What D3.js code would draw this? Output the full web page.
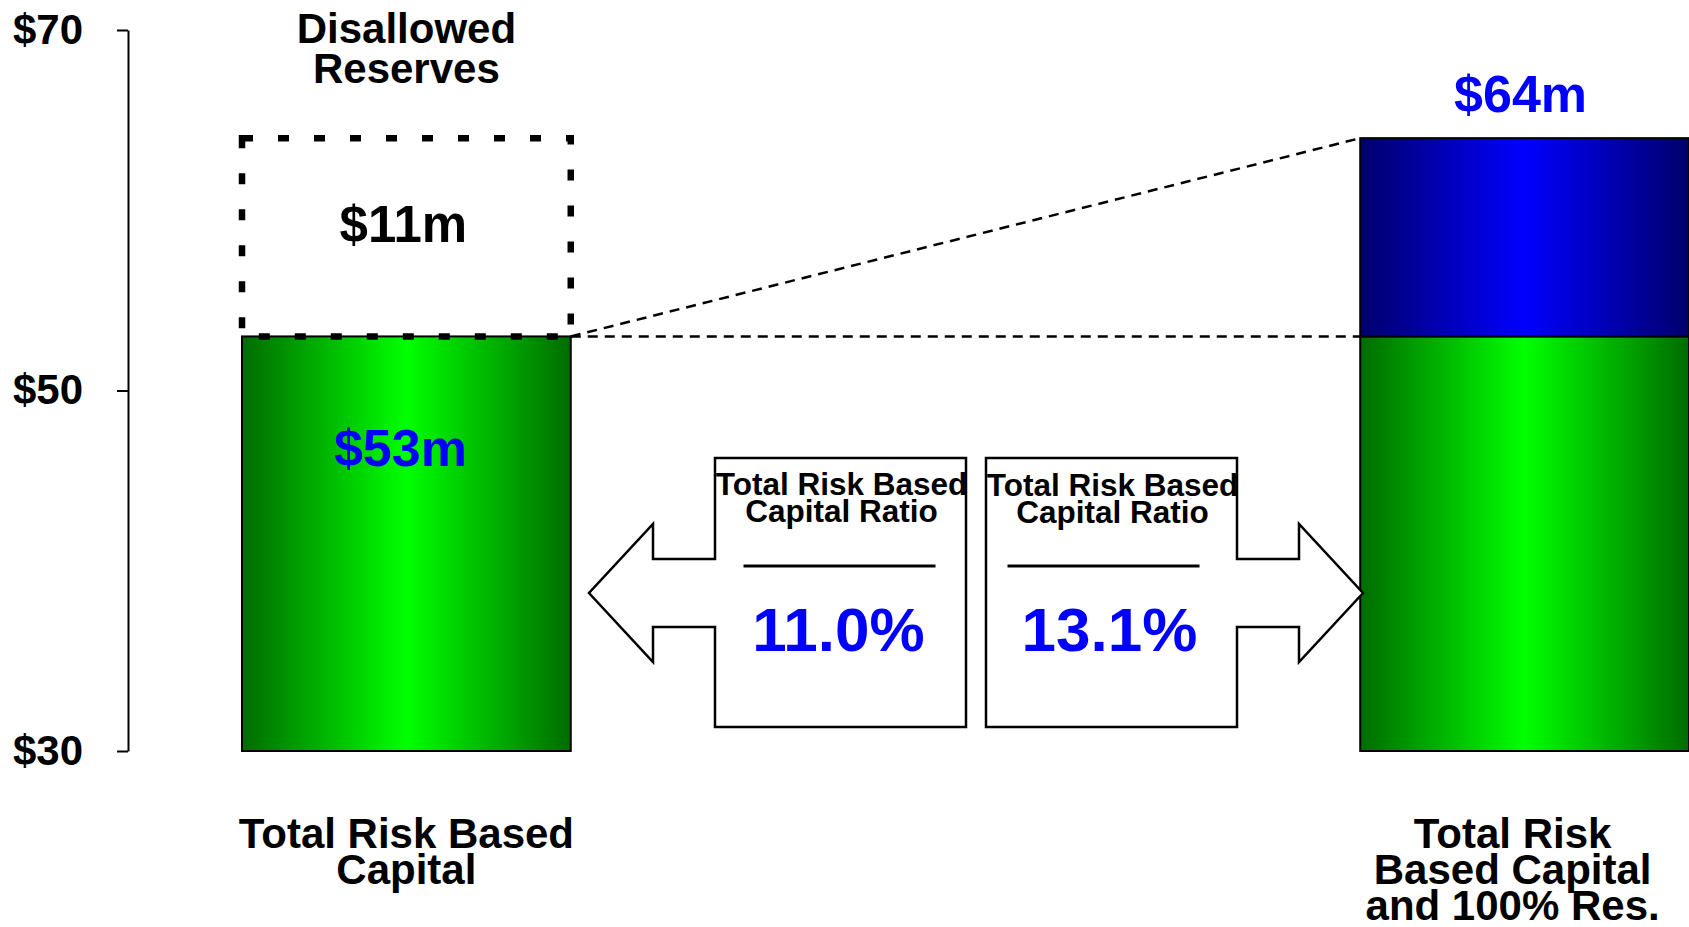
<!DOCTYPE html>
<html>
<head>
<meta charset="utf-8">
<script src="https://cdn.jsdelivr.net/npm/d3@7"></script>
<style>
  html, body { margin: 0; padding: 0; background: #fff; }
  svg { display: block; font-family: 'Liberation Sans', Arial, sans-serif; font-weight: bold; }
</style>
</head>
<body>
<svg id="chart" width="1689" height="927"></svg>
<script>
// chart values
const categories = ['Total Risk Based Capital', 'Total Risk Based Capital and 100% Res.']
const categoryLines = [['Total Risk Based', 'Capital'], ['Total Risk', 'Based Capital', 'and 100% Res.']]
const baseCapital = [53, 53]
const reserves = [11, 11]
const reservesCounted = [false, true]
const ratioValues = [11.0, 13.1]
const ratioTitle = ['Total Risk Based', 'Capital Ratio']
const disallowedTitle = ['Disallowed', 'Reserves']
const yTicks = [30, 50, 70]

const svg = d3.select('#chart')

const y = d3.scaleLinear().domain([30, 70]).range([751, 30])
const x = d3.scaleBand().domain(categories).range([242, 1689]).paddingInner(0.706).paddingOuter(0)
const bw = x.bandwidth()

// gradients for the bars
const defs = svg.append('defs')
function hGradient(id, edge, mid) {
  const g = defs.append('linearGradient').attr('id', id).attr('x1', 0).attr('x2', 1).attr('y1', 0).attr('y2', 0)
  g.append('stop').attr('offset', '0%').attr('stop-color', edge)
  g.append('stop').attr('offset', '50%').attr('stop-color', mid)
  g.append('stop').attr('offset', '100%').attr('stop-color', edge)
}
hGradient('greenGrad', '#006c00', '#00ff00')
hGradient('blueGrad', '#00006c', '#0000ff')

// y axis
const yAxis = svg.append('g')
  .attr('transform', 'translate(128,0)')
  .call(d3.axisLeft(y).tickValues(yTicks).tickSize(11).tickSizeOuter(0).tickPadding(34).tickFormat(d => '$' + d))
yAxis.selectAll('path, line').attr('stroke', '#000').attr('stroke-width', 2)
yAxis.selectAll('text')
  .attr('fill', '#000')
  .style('font-family', "'Liberation Sans', Arial, sans-serif")
  .style('font-weight', 'bold')
  .style('font-size', '42px')

// connector dashed lines (behind bars)
const x0r = x(categories[0]) + bw
const x1l = x(categories[1])
svg.append('line')
  .attr('x1', x0r).attr('y1', y(baseCapital[0]))
  .attr('x2', x1l).attr('y2', y(baseCapital[1]))
  .attr('stroke', '#000').attr('stroke-width', 2.5).attr('stroke-dasharray', '10,7')
svg.append('line')
  .attr('x1', x0r).attr('y1', y(baseCapital[0]))
  .attr('x2', x1l).attr('y2', y(baseCapital[1] + reserves[1]))
  .attr('stroke', '#000').attr('stroke-width', 2.5).attr('stroke-dasharray', '10,7')

// base capital bars
svg.append('g').selectAll('rect')
  .data(categories)
  .join('rect')
  .attr('x', d => x(d))
  .attr('y', (d, i) => y(baseCapital[i]))
  .attr('width', bw)
  .attr('height', (d, i) => y(30) - y(baseCapital[i]))
  .attr('fill', 'url(#greenGrad)')
  .attr('stroke', '#000')
  .attr('stroke-width', 2)

// reserves: dotted outline when disallowed, blue when counted
svg.append('g').selectAll('rect')
  .data(categories)
  .join('rect')
  .attr('x', d => x(d))
  .attr('y', (d, i) => y(baseCapital[i] + reserves[i]))
  .attr('width', bw)
  .attr('height', (d, i) => y(baseCapital[i]) - y(baseCapital[i] + reserves[i]))
  .attr('fill', (d, i) => reservesCounted[i] ? 'url(#blueGrad)' : 'none')
  .attr('stroke', '#000')
  .attr('stroke-width', (d, i) => reservesCounted[i] ? 2 : 6.5)
  .attr('stroke-dasharray', (d, i) => reservesCounted[i] ? null : '11,25')

// value labels
const c0 = x(categories[0]) + bw / 2
const c1 = x(categories[1]) + bw / 2
svg.append('text')
  .attr('x', c0 - 6).attr('y', y(baseCapital[0]) + 130)
  .attr('text-anchor', 'middle').attr('fill', '#0000ff').style('font-size', '52px')
  .text('$' + baseCapital[0] + 'm')
svg.append('text')
  .attr('x', c0 - 3).attr('y', (y(baseCapital[0]) + y(baseCapital[0] + reserves[0])) / 2 + 5)
  .attr('text-anchor', 'middle').attr('fill', '#000').style('font-size', '51px')
  .text('$' + reserves[0] + 'm')
svg.append('text')
  .attr('x', c1 - 4).attr('y', y(baseCapital[1] + reserves[1]) - 26)
  .attr('text-anchor', 'middle').attr('fill', '#0000ff').style('font-size', '52px')
  .text('$' + (baseCapital[1] + reserves[1]) + 'm')

// disallowed reserves title
svg.append('text')
  .attr('text-anchor', 'middle').style('font-size', '42px')
  .selectAll('tspan')
  .data(disallowedTitle)
  .join('tspan')
  .attr('x', c0)
  .attr('y', (d, i) => 43 + i * 40)
  .text(d => d)

// category labels
const labelCx = [c0, c1 - 12]
categories.forEach((c, ci) => {
  svg.append('text')
    .attr('text-anchor', 'middle').style('font-size', '42px')
    .selectAll('tspan')
    .data(categoryLines[ci])
    .join('tspan')
    .attr('x', labelCx[ci])
    .attr('y', (d, i) => 848 + i * 36)
    .text(d => d)
})

// ratio callouts
const boxTop = 458, boxBot = 727, shaftTop = 559, shaftBot = 627, headTop = 524, headBot = 662, midY = 593
const callouts = [
  { left: 715, right: 966, dir: -1, headX: 653, tipX: 589, ruleShift: 0 },
  { left: 986, right: 1237, dir: 1, headX: 1299, tipX: 1363, ruleShift: -7 }
]
callouts.forEach((cb, i) => {
  const attach = cb.dir < 0 ? cb.left : cb.right
  const far = cb.dir < 0 ? cb.right : cb.left
  const p = d3.path()
  p.moveTo(far, boxTop)
  p.lineTo(attach, boxTop)
  p.lineTo(attach, shaftTop)
  p.lineTo(cb.headX, shaftTop)
  p.lineTo(cb.headX, headTop)
  p.lineTo(cb.tipX, midY)
  p.lineTo(cb.headX, headBot)
  p.lineTo(cb.headX, shaftBot)
  p.lineTo(attach, shaftBot)
  p.lineTo(attach, boxBot)
  p.lineTo(far, boxBot)
  p.closePath()
  svg.append('path').attr('d', p.toString())
    .attr('fill', '#fff').attr('stroke', '#000').attr('stroke-width', 2.5)

  const cx = (cb.left + cb.right) / 2
  svg.append('text')
    .attr('text-anchor', 'middle').attr('fill', '#000').style('font-size', '31.5px')
    .selectAll('tspan')
    .data(ratioTitle)
    .join('tspan')
    .attr('x', cx + 1)
    .attr('y', (d, j) => 495 + i + j * 27)
    .text(d => d)

  svg.append('line')
    .attr('x1', cx - 97 + cb.ruleShift).attr('x2', cx + 95 + cb.ruleShift)
    .attr('y1', 566).attr('y2', 566)
    .attr('stroke', '#000').attr('stroke-width', 3)

  svg.append('text')
    .attr('x', cx - 2).attr('y', 651)
    .attr('text-anchor', 'middle').attr('fill', '#0000ff').style('font-size', '62px')
    .text(ratioValues[i].toFixed(1) + '%')
})
</script>
</body>
</html>
